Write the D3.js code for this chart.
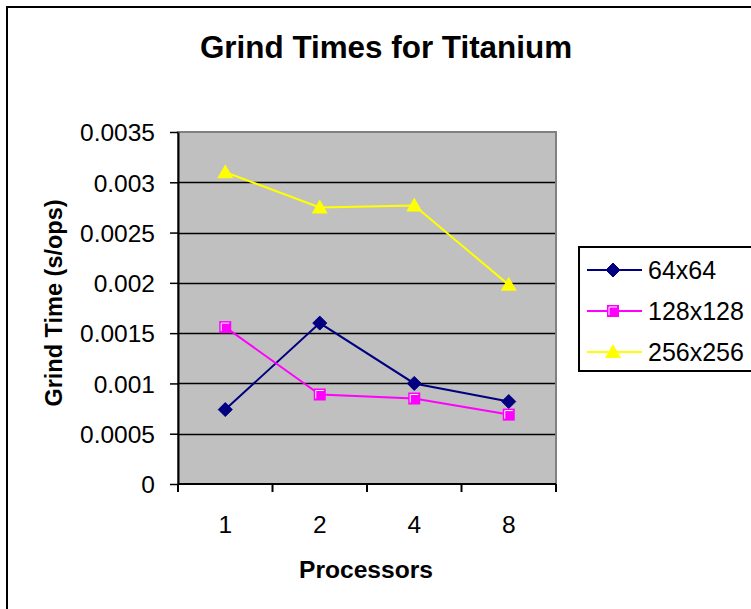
<!DOCTYPE html>
<html>
<head>
<meta charset="utf-8">
<script src="https://cdn.jsdelivr.net/npm/d3@7"></script>
<style>
  html, body { margin: 0; padding: 0; background: #fff; }
  svg { display: block; font-family: "Liberation Sans", Arial, sans-serif; }
</style>
</head>
<body>
<svg id="chart" width="751" height="609"></svg>
<script>
// Processor counts along the category axis
const processors = ["1", "2", "4", "8"];
// Grind time (s/ops) per problem size
const grid64 = [0.00074, 0.0016, 0.001, 0.00082];
const grid128 = [0.00156, 0.00089, 0.00085, 0.00069];
const grid256 = [0.0031, 0.00275, 0.00277, 0.00198];
const seriesNames = ["64x64", "128x128", "256x256"];
const seriesColors = ["#000080", "#FF00FF", "#FFFF00"];
const seriesMarkers = ["diamond", "square", "triangle"];
const yTicks = [0, 0.0005, 0.001, 0.0015, 0.002, 0.0025, 0.003, 0.0035];

const series = [grid64, grid128, grid256].map((values, i) => ({
  name: seriesNames[i], color: seriesColors[i], marker: seriesMarkers[i], values
}));

const svg = d3.select("#chart");
const plot = { left: 178, right: 556, top: 132, bottom: 484 };

// Outer chart border
svg.append("rect")
  .attr("x", 7).attr("y", 7).attr("width", 760).attr("height", 620)
  .attr("fill", "#fff").attr("stroke", "#000").attr("stroke-width", 2);

// Title
svg.append("text")
  .attr("x", 386).attr("y", 58)
  .attr("text-anchor", "middle")
  .attr("font-size", 31.4).attr("font-weight", "bold")
  .text("Grind Times for Titanium");

const x = d3.scaleBand().domain(processors).range([plot.left, plot.right]).padding(0);
const y = d3.scaleLinear().domain([0, 0.0035]).range([plot.bottom, plot.top]);

// Plot background with grey frame
svg.append("rect")
  .attr("x", plot.left).attr("y", plot.top)
  .attr("width", plot.right - plot.left).attr("height", plot.bottom - plot.top)
  .attr("fill", "#C0C0C0").attr("stroke", "#808080").attr("stroke-width", 2);

// Horizontal gridlines
svg.append("g")
  .selectAll("line")
  .data(yTicks.filter(t => t > 0 && t < 0.0035))
  .join("line")
  .attr("x1", plot.left).attr("x2", plot.right - 1)
  .attr("y1", d => Math.round(y(d)) + 0.5).attr("y2", d => Math.round(y(d)) + 0.5)
  .attr("stroke", "#000").attr("stroke-width", 1.6);

// Y axis
const yAxis = svg.append("g")
  .attr("transform", `translate(${plot.left},0)`)
  .call(d3.axisLeft(y).tickValues(yTicks).tickFormat(d => d3.format("")(+d.toFixed(4))).tickSize(8).tickSizeOuter(0).tickPadding(15));
yAxis.select(".domain").attr("stroke", "#000").attr("stroke-width", 2);
yAxis.selectAll(".tick line").attr("stroke", "#000").attr("stroke-width", 1.5);
yAxis.selectAll(".tick text")
  .attr("font-size", 24.5).attr("fill", "#000").attr("dy", "0.36em")
  .attr("font-family", "Liberation Sans, Arial, sans-serif");

// X axis: ticks on category boundaries
const xAxisG = svg.append("g").attr("transform", `translate(0,${plot.bottom})`);
xAxisG.append("line")
  .attr("x1", plot.left).attr("x2", plot.right)
  .attr("stroke", "#000").attr("stroke-width", 2);
const boundaries = processors.map(p => x(p)).concat([x.range()[1]]);
xAxisG.selectAll("line.tick")
  .data(boundaries)
  .join("line").attr("class", "tick")
  .attr("x1", d => d).attr("x2", d => d)
  .attr("y1", 0).attr("y2", 8)
  .attr("stroke", "#000").attr("stroke-width", 2);
xAxisG.selectAll("text")
  .data(processors)
  .join("text")
  .attr("x", d => x(d) + x.bandwidth() / 2)
  .attr("y", 49)
  .attr("text-anchor", "middle")
  .attr("font-size", 24.5)
  .text(d => d);

// Axis titles
svg.append("text")
  .attr("x", 366).attr("y", 578)
  .attr("text-anchor", "middle")
  .attr("font-size", 24.6).attr("font-weight", "bold")
  .text("Processors");
svg.append("text")
  .attr("transform", "translate(62,303) rotate(-90)")
  .attr("text-anchor", "middle")
  .attr("font-size", 23.5).attr("font-weight", "bold")
  .text("Grind Time (s/ops)");

// Marker drawing
function drawMarker(g, type, color) {
  if (type === "diamond") {
    g.append("path").attr("d", "M0,-7L7,0L0,7L-7,0Z").attr("fill", color).attr("stroke", color);
  } else if (type === "square") {
    g.append("rect").attr("x", -6).attr("y", -6).attr("width", 12).attr("height", 12).attr("fill", color);
    g.append("path").attr("d", "M-4,4V-4H4").attr("fill", "none").attr("stroke", "#fff").attr("stroke-width", 1);
  } else {
    g.append("path").attr("d", "M0,-8L8,6L-8,6Z").attr("fill", color);
  }
}

const line = d3.line()
  .x((d, i) => x(processors[i]) + x.bandwidth() / 2)
  .y(d => y(d));

series.forEach(s => {
  svg.append("path")
    .datum(s.values)
    .attr("d", line)
    .attr("fill", "none")
    .attr("stroke", s.color)
    .attr("stroke-width", 2);
  s.values.forEach((v, i) => {
    const g = svg.append("g")
      .attr("transform", `translate(${x(processors[i]) + x.bandwidth() / 2},${y(v)})`);
    drawMarker(g, s.marker, s.color);
  });
});

// Legend
const legend = svg.append("g");
legend.append("rect")
  .attr("x", 579).attr("y", 247).attr("width", 180).attr("height", 124)
  .attr("fill", "#fff").attr("stroke", "#000").attr("stroke-width", 2);
series.forEach((s, i) => {
  const cy = 270 + i * 41;
  legend.append("line")
    .attr("x1", 587).attr("x2", 642).attr("y1", cy).attr("y2", cy)
    .attr("stroke", s.color).attr("stroke-width", 2);
  const g = legend.append("g").attr("transform", `translate(613,${cy})`);
  drawMarker(g, s.marker, s.color);
  legend.append("text")
    .attr("x", 648).attr("y", cy + 8.5)
    .attr("font-size", 25)
    .text(s.name);
});
</script>
</body>
</html>
